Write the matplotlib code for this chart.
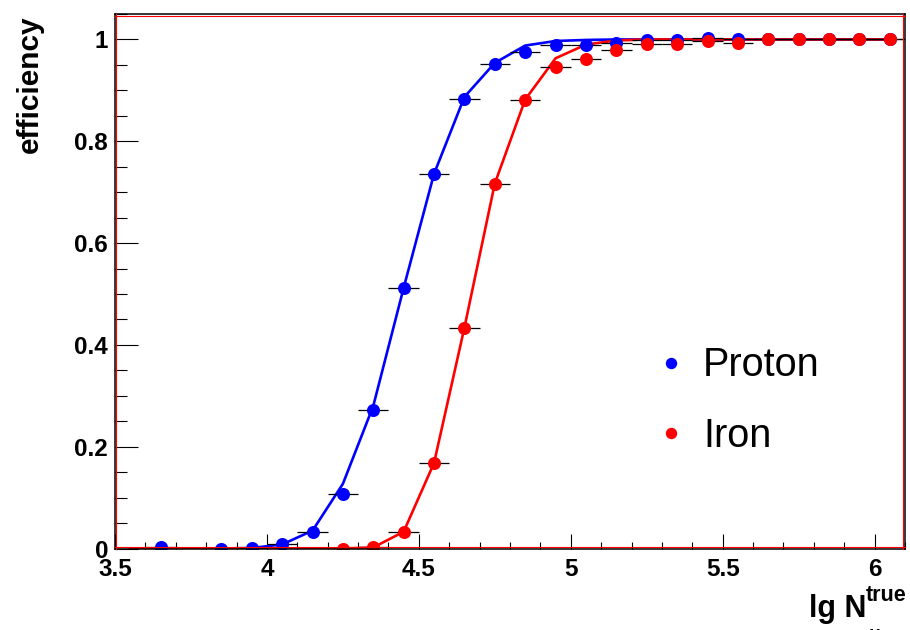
import matplotlib
matplotlib.use("Agg")
import matplotlib.pyplot as plt
from matplotlib.lines import Line2D
from matplotlib.ticker import MultipleLocator, FuncFormatter
from matplotlib.transforms import offset_copy

plt.rcParams['font.family'] = ['Liberation Sans', 'DejaVu Sans']

# Bin centres (lg N_mu) and measured efficiencies
proton_x = [3.65, 3.85, 3.95, 4.05, 4.15, 4.25, 4.35, 4.45, 4.55, 4.65,
            4.75, 4.85, 4.95, 5.05, 5.15, 5.25, 5.35, 5.45, 5.55, 5.65,
            5.75, 5.85, 5.95, 6.05]
proton_eff = [0.002, 0.0, 0.001, 0.009, 0.033, 0.108, 0.273, 0.511, 0.736, 0.884,
              0.952, 0.975, 0.990, 0.990, 0.993, 0.998, 0.999, 1.002, 1.001, 1.0,
              1.0, 1.0, 1.0, 1.0]

iron_x = [4.25, 4.35, 4.45, 4.55, 4.65, 4.75, 4.85, 4.95, 5.05, 5.15,
          5.25, 5.35, 5.45, 5.55, 5.65, 5.75, 5.85, 5.95, 6.05]
iron_eff = [0.0, 0.003, 0.033, 0.168, 0.434, 0.717, 0.882, 0.945, 0.961, 0.979,
            0.992, 0.992, 0.996, 0.994, 1.0, 1.0, 1.0, 1.0, 1.0]

# Fitted curves evaluated at the bin centres
fit_x = [3.55, 3.65, 3.75, 3.85, 3.95, 4.05, 4.15, 4.25, 4.35, 4.45,
         4.55, 4.65, 4.75, 4.85, 4.95, 5.05, 5.15, 5.25, 5.35, 5.45,
         5.55, 5.65, 5.75, 5.85, 5.95, 6.05]
proton_fit = [0.0, 0.0, 0.0, 0.0, 0.001, 0.008, 0.035, 0.127, 0.280, 0.512,
              0.736, 0.887, 0.954, 0.988, 0.997, 0.999, 1.0, 1.0, 1.0, 1.0,
              1.0, 1.0, 1.0, 1.0, 1.0, 1.0]
iron_fit = [0.0, 0.0, 0.0, 0.0, 0.0, 0.0, 0.0, 0.0, 0.002, 0.033,
            0.168, 0.434, 0.717, 0.882, 0.963, 0.990, 0.998, 1.0, 1.0, 1.0,
            1.0, 1.0, 1.0, 1.0, 1.0, 1.0]

half_bin = 0.05
labels = ["Proton", "Iron"]
BLUE = "#0000ff"
RED = "#ff0000"

W, H = 910, 630
fig = plt.figure(figsize=(W / 100, H / 100), dpi=100)
ax = fig.add_axes([115 / W, 1 - 548.5 / H, (905 - 115) / W, (548.5 - 14) / H])

ax.plot(fit_x, proton_fit, color=BLUE, lw=1.9, zorder=2)
ax.plot(fit_x, iron_fit, color=RED, lw=1.9, zorder=2.1)

ax.errorbar(proton_x, proton_eff, xerr=half_bin, fmt='none', ecolor='black',
            elinewidth=0.9, capsize=0, zorder=3)
ax.errorbar(iron_x, iron_eff, xerr=half_bin, fmt='none', ecolor='black',
            elinewidth=0.9, capsize=0, zorder=3)

ax.plot(proton_x, proton_eff, 'o', color=BLUE, ms=9.4, mew=0, zorder=4)
ax.plot(iron_x, iron_eff, 'o', color=RED, ms=9.4, mew=0, zorder=4.1)

ax.set_xlim(3.5, 6.1)
ax.set_ylim(0, 1.05)

ax.xaxis.set_major_locator(MultipleLocator(0.5))
ax.xaxis.set_minor_locator(MultipleLocator(0.1))
ax.yaxis.set_major_locator(MultipleLocator(0.2))
ax.yaxis.set_minor_locator(MultipleLocator(0.05))
fmt = FuncFormatter(lambda v, p: f"{v:g}")
ax.xaxis.set_major_formatter(fmt)
ax.yaxis.set_major_formatter(fmt)

ax.tick_params(axis='both', which='both', direction='in', width=0.8,
               color='black', top=False, right=False)
ax.tick_params(axis='x', which='major', length=10.8, pad=6.5, labelsize=17.5)
ax.tick_params(axis='x', which='minor', length=5.4)
ax.tick_params(axis='y', which='major', length=16.5, pad=5, labelsize=17.5)
ax.tick_params(axis='y', which='minor', length=8.6)
for lab in ax.get_xticklabels() + ax.get_yticklabels():
    lab.set_fontweight('bold')

for s in ax.spines.values():
    s.set_color('black')
    s.set_linewidth(1.1)
    s.set_zorder(5)

# thin red inner frame
frame = dict(color=RED, lw=0.8, clip_on=False, zorder=5.5)
ax.plot([0, 0], [0, 1], transform=offset_copy(ax.transAxes, fig, x=1.3, y=0, units='dots'), **frame)
ax.plot([1, 1], [0, 1], transform=offset_copy(ax.transAxes, fig, x=-1.6, y=0, units='dots'), **frame)
ax.plot([0, 1], [1, 1], transform=offset_copy(ax.transAxes, fig, x=0, y=-1.6, units='dots'), **frame)
ax.plot([0, 1], [0, 0], transform=offset_copy(ax.transAxes, fig, x=0, y=1.3, units='dots'), **frame)

handles = [Line2D([], [], ls='none', marker='o', color=BLUE, ms=8.2, mew=0),
           Line2D([], [], ls='none', marker='o', color=RED, ms=8.2, mew=0)]
ax.legend(handles, labels, loc='upper left', bbox_to_anchor=(0.664, 0.415),
          frameon=False, fontsize=28.5, handlelength=0.6, handletextpad=0.5,
          labelspacing=0.83, borderpad=0)

fig.text(30 / W, 1 - 15 / H, "efficiency", rotation=90, ha='center', va='top',
         fontsize=21.5, fontweight='bold')

fig.text(866 / W, 1 - 617 / H, "lg N", ha='right', va='baseline',
         fontsize=22, fontweight='bold')
fig.text(866 / W, 1 - 601 / H, "true", ha='left', va='baseline',
         fontsize=15.5, fontweight='bold')
fig.text(869 / W, 1 - 626 / H, "\u03bc", ha='left', va='top',
         fontsize=14, fontweight='bold')

fig.savefig("out.png", dpi=100)
